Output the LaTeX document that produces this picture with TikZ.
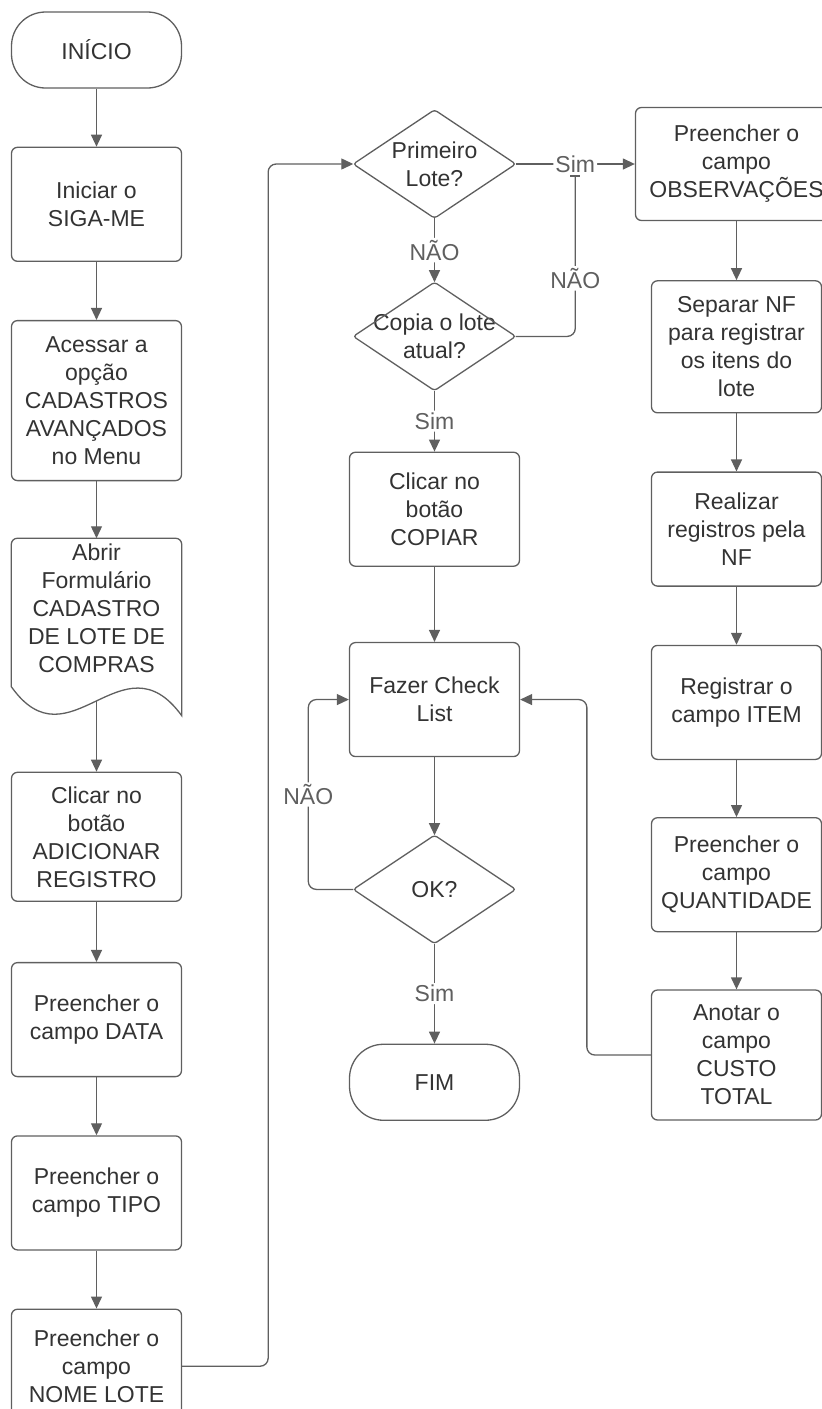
\documentclass[tikz,border=0pt]{standalone}
\usepackage{fontspec}
\setmainfont{Liberation Sans}
\usetikzlibrary{positioning, arrows.meta, calc}
\definecolor{linegrey}{HTML}{5F5F5F}
\definecolor{textgrey}{HTML}{333333}

\begin{document}
\begin{tikzpicture}[x=1pt, y=1pt,
    font=\fontsize{23}{28}\selectfont, text=textgrey,
    block/.style={rectangle, rounded corners=6pt, draw=linegrey, line width=1.3pt, minimum width=170pt, minimum height=114pt, inner sep=0pt, align=center},
    terminal/.style={block, rounded corners=34pt, minimum height=76pt},
    decision/.style={rectangle, minimum width=162pt, minimum height=108pt, inner sep=0pt, align=center},
    formbox/.style={rectangle, minimum width=170pt, minimum height=140pt, inner sep=0pt, align=center},
    answer/.style={fill=white, inner sep=2pt}
  ]
  \useasboundingbox (0,0) rectangle (822,-1409);

  % coluna da esquerda
  \node[terminal] (inicio) at (96.5,-50) {INÍCIO};
  \node[block] (iniciar) [below=58pt of inicio] {Iniciar o\\SIGA-ME};
  \node[block, minimum height=160pt] (acessar) [below=58pt of iniciar] {Acessar a\\opção\\CADASTROS\\AVANÇADOS\\no Menu};
  \node[formbox] (abrir) [below=57pt of acessar] {Abrir\\Formulário\\CADASTRO\\DE LOTE DE\\COMPRAS};
  \coordinate[below=22pt of abrir.south] (abrirwave);
  \node[block, minimum height=129pt] (clicar) [below=93pt of abrir] {Clicar no\\botão\\ADICIONAR\\REGISTRO};
  \node[block] (data) [below=60pt of clicar] {Preencher o\\campo DATA};
  \node[block] (tipo) [below=58pt of data] {Preencher o\\campo TIPO};
  \node[block] (nome) [below=58pt of tipo] {Preencher o\\campo\\NOME LOTE};

  % coluna do meio
  \node[decision] (primeiro) at (434.5,-164) {Primeiro\\Lote?};
  \node[decision] (copia) [below=64pt of primeiro] {Copia o lote\\atual?};
  \node[block] (copiar) [below=61pt of copia] {Clicar no\\botão\\COPIAR};
  \node[block] (fazer) [below=75pt of copiar] {Fazer Check\\List};
  \node[decision] (ok) [below=78pt of fazer] {OK?};
  \node[terminal] (fim) [below=100pt of ok] {FIM};

  % coluna da direita
  \node[block, minimum width=202pt, minimum height=113pt] (obs) at (736.5,-164) {Preencher o\\campo\\OBSERVAÇÕES};
  \node[block, minimum height=132pt] (separar) [below=59pt of obs] {Separar NF\\para registrar\\os itens do\\lote};
  \node[block] (realizar) [below=58pt of separar] {Realizar\\registros pela\\NF};
  \node[block] (registrar) [below=58pt of realizar] {Registrar o\\campo ITEM};
  \node[block] (quant) [below=57pt of registrar] {Preencher o\\campo\\QUANTIDADE};
  \node[block, minimum height=130pt] (anotar) [below=57pt of quant] {Anotar o\\campo\\CUSTO\\TOTAL};

  % contornos
  \foreach \d in {primeiro, copia, ok}
    \draw[linegrey, line width=1.3pt, rounded corners=3pt] (\d.west) -- (\d.north) -- (\d.east) -- (\d.south) -- cycle;
  \draw[linegrey, line width=1.3pt] ($(abrir.south west)+(0,-8)$)
    .. controls ($(abrir.south west)+(58,-90)$) and ($(abrir.south west)+(111,45)$) .. ($(abrir.south east)+(0,-37)$)
    [rounded corners=6pt] -- (abrir.north east) -- (abrir.north west) [sharp corners] -- cycle;

  \begin{scope}[linegrey, line width=1.3pt, rounded corners=8pt, -{Triangle[length=12pt, width=11pt]}]
    \foreach \a/\b in {inicio/iniciar, iniciar/acessar, acessar/abrir, abrirwave/clicar, clicar/data, data/tipo, tipo/nome, copiar/fazer, fazer/ok, obs/separar, separar/realizar, realizar/registrar, registrar/quant, quant/anotar}
      \draw (\a) -- (\b);
    \draw (primeiro) -- node[answer] {NÃO} (copia);
    \draw (copia) -- node[answer] {Sim} (copiar);
    \draw (ok) -- node[answer] {Sim} (fim);
    \draw (primeiro.east) -- node[answer] (simobs) {Sim} (obs.west);
    \draw[-{Bar[width=10pt, line width=2pt]}] (copia.east) -| node[answer, pos=0.68] {NÃO} (simobs.south);
    \draw (ok.west) -- ++(-45,0) |- node[answer, pos=0.25] {NÃO} (fazer.west);
    \draw (anotar.west) -- ++(-64,0) |- (fazer.east);
    \draw (nome.east) -- ++(86,0) |- (primeiro.west);
  \end{scope}
\end{tikzpicture}
\end{document}
